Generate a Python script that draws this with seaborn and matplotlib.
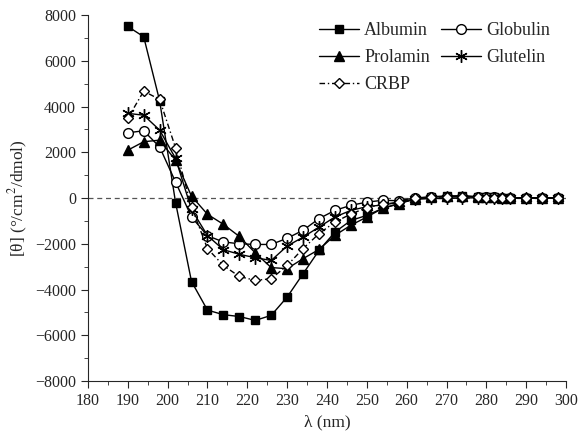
import numpy as np
import pandas as pd
import matplotlib
matplotlib.use("Agg")
import matplotlib.pyplot as plt
import seaborn as sns
from matplotlib.ticker import MultipleLocator

#******************
#   Data
#******************
wavelength = [190, 194, 198, 202, 206, 210, 214, 218, 222, 226, 230, 234, 238, 242, 246,
              250, 254, 258, 262, 266, 270, 274, 278, 280, 282, 284, 286, 290, 294, 298]

albumin = [7500, 7050, 4250, -200, -3650, -4900, -5100, -5180, -5350, -5130, -4330, -3310, -2290, -1490, -980,
           -760, -450, -250, -50, 50, 80, 90, 50, 30, 30, 20, 10, 10, 0, 0]
globulin = [2850, 2940, 2230, 700, -830, -1650, -1920, -2000, -2030, -2030, -1760, -1410, -900, -540, -320,
            -180, -100, -120, 0, 50, 60, 60, 40, 30, 30, 20, 10, 10, 0, 0]
prolamin = [2090, 2460, 2530, 1650, 80, -710, -1150, -1680, -2400, -3040, -3090, -2650, -2250, -1630, -1190,
            -830, -450, -250, -30, 50, 80, 100, 50, 30, 30, 20, 10, 10, 0, 0]
glutelin = [3700, 3620, 2970, 1730, -500, -1640, -2260, -2460, -2610, -2730, -2100, -1710, -1270, -830, -540,
            -380, -300, -200, -60, -20, -20, 0, 10, 10, 10, 0, 0, 0, 0, 0]
crbp = [3480, 4670, 4310, 2190, -390, -2210, -2950, -3430, -3600, -3530, -2950, -2210, -1560, -1050, -700,
        -420, -280, -180, 0, 30, 50, 60, 30, 20, 20, 10, 10, 0, 0, 0]

series = {"Albumin": albumin, "Globulin": globulin, "Prolamin": prolamin,
          "Glutelin": glutelin, "CRBP": crbp}

#*******************
#   Aesthetics
#*******************
sns.set_style("ticks")
plt.rcParams["font.family"] = ["Liberation Serif", "DejaVu Serif"]
plt.rcParams["mathtext.fontset"] = "stix"

styles = {
    "Albumin":  dict(marker="s", mfc="black", ms=6, ls="-"),
    "Globulin": dict(marker="o", mfc="white", ms=7, ls="-"),
    "Prolamin": dict(marker="^", mfc="black", ms=7, ls="-"),
    "Glutelin": dict(marker=(6, 2, 0), mfc="black", ms=9, ls="-"),
    "CRBP":     dict(marker="D", mfc="white", ms=5, ls=(0, (4, 2, 1, 2))),
}

fig, ax = plt.subplots(figsize=(5.86, 4.41), dpi=100)
fig.subplots_adjust(left=0.150, right=0.966, top=0.966, bottom=0.136)

ax.axhline(0, color="#555555", lw=0.9, ls=(0, (4, 3)), zorder=0)

handles = {}
for name, vals in series.items():
    df = pd.DataFrame({"x": wavelength, "y": vals})
    st = styles[name]
    sns.lineplot(data=df, x="x", y="y", ax=ax, color="black", lw=1.0,
                 marker=st["marker"], markersize=st["ms"], markerfacecolor=st["mfc"],
                 markeredgecolor="black", markeredgewidth=1.0, linestyle=st["ls"],
                 label=name)
    handles[name] = ax.lines[-1]

ax.set_xlim(180, 300)
ax.set_ylim(-8000, 8000)
ax.xaxis.set_major_locator(MultipleLocator(10))
ax.xaxis.set_minor_locator(MultipleLocator(5))
ax.yaxis.set_major_locator(MultipleLocator(2000))
ax.yaxis.set_minor_locator(MultipleLocator(1000))
ax.tick_params(which="major", direction="out", length=5, labelsize=11.5)
ax.tick_params(which="minor", direction="out", length=3)
sns.despine(ax=ax)

ax.set_xlabel("λ (nm)", fontsize=12.5)
ax.set_ylabel(r"[θ] (°/cm$^{2}$/dmol)", fontsize=12.5)

order = ["Albumin", "Prolamin", "CRBP", "Globulin", "Glutelin"]
ax.legend([handles[n] for n in order], order, ncol=2, frameon=False,
          loc="upper right", bbox_to_anchor=(1.0, 1.025), fontsize=13,
          handlelength=2.2, columnspacing=0.6, handletextpad=0.3, labelspacing=0.55)

fig.savefig("out.png", dpi=100)
